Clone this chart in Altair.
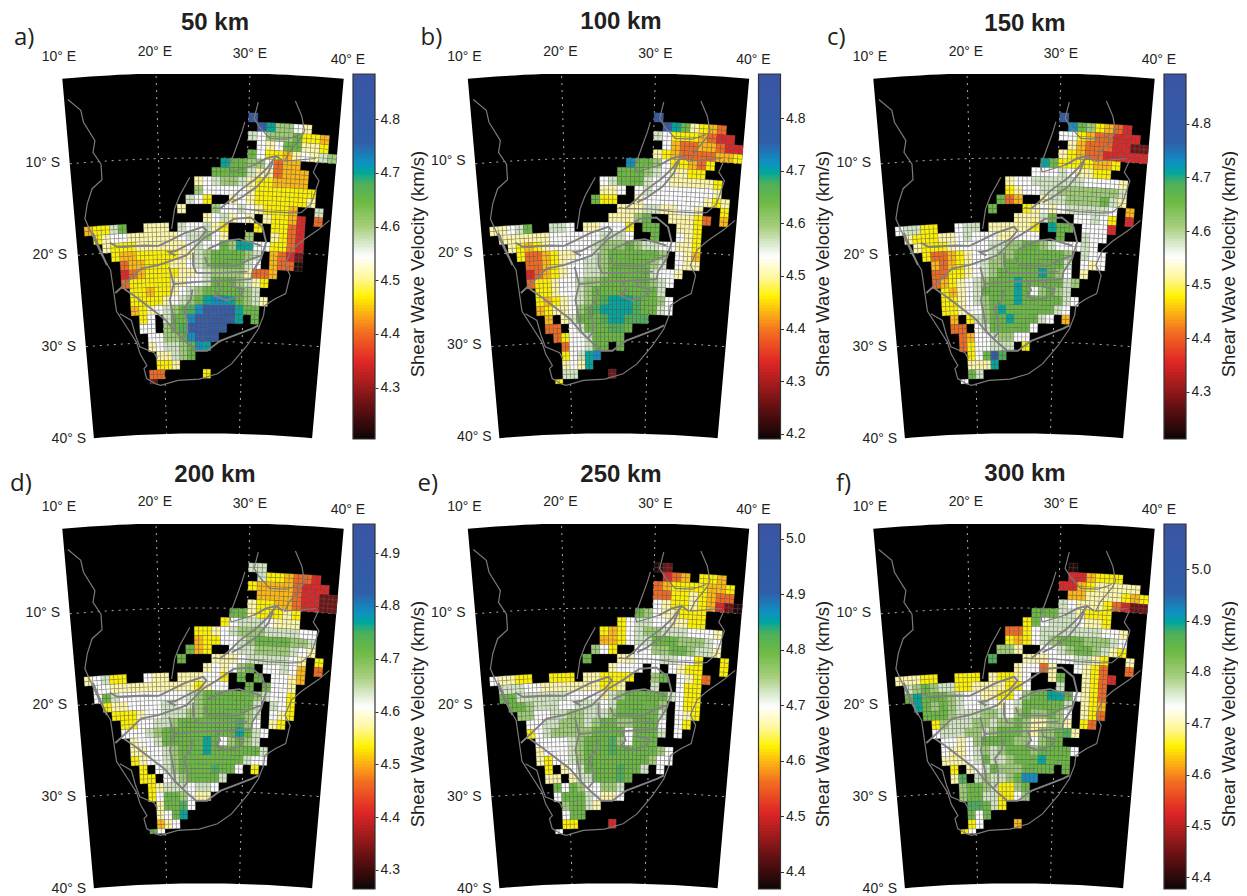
import math
import altair as alt
import pandas as pd

alt.data_transformers.disable_max_rows()

DEPTHS = ["50 km", "100 km", "150 km", "200 km", "250 km", "300 km"]
LETTERS = ["a)", "b)", "c)", "d)", "e)", "f)"]
BAR_RANGE = [(4.2045, 4.884), (4.19, 4.884), (4.212, 4.893), (4.264, 4.955), (4.369, 5.027), (4.377, 5.088)]
BAR_TICKS = [[4.3, 4.4, 4.5, 4.6, 4.7, 4.8],
             [4.2, 4.3, 4.4, 4.5, 4.6, 4.7, 4.8],
             [4.3, 4.4, 4.5, 4.6, 4.7, 4.8],
             [4.3, 4.4, 4.5, 4.6, 4.7, 4.8, 4.9],
             [4.4, 4.5, 4.6, 4.7, 4.8, 4.9, 5.0],
             [4.4, 4.5, 4.6, 4.7, 4.8, 4.9, 5.0]]

STOP_FRAC = [0, 0.08, 0.21, 0.29, 0.35, 0.39, 0.44, 0.50, 0.54, 0.58, 0.65, 0.70, 0.73, 0.76, 0.81, 1]
STOP_HEX = ["#0d0505", "#5c0f12", "#e02626", "#f26a21", "#fdb813", "#fff200", "#fff799", "#ffffff",
            "#d3e6c4", "#a8cf7e", "#6cb944", "#4fb05a", "#00a79d", "#0f8fc4", "#2f5fa9", "#3b54a4"]
CODE_FRAC = {"0": .02, "1": .10, "2": .21, "3": .29, "4": .35, "5": .39, "6": .45, "7": .50,
             "8": .54, "9": .59, "a": .65, "b": .70, "c": .73, "d": .76, "e": .88}

# one entry per 1-degree latitude band from 5-6 S to 34-35 S: "first_lon:codes"
P50 = ["30:e", "31:ec9976", "30:87999a554", "31:767aa665", "30:a755467689", "27:caa997344",
       "26:aaaa8663444", "24:6789986554444", "24:97777765555555", "23:875..6765555556",
       "22:6...9778765554..8", "25:678676.65542.3", "11:4558a..666.877865...5.5532",
       "12:5677666666788976..9..6532", "13:65556666667877a9cc775532", "14:544555556689aaaa98.4321",
       "15:34455566789aaaa87.4330", "15:2345555667899996334", "15:35555566778aaa9865",
       "16:554556789aaaaa98", "16:55556789acddca986", "16:456789abdeeeecaa", "17:57.8aadeeeeec.a",
       "17:77.9abeeeee", "18:7799adeee", "18:67889adc", "19:6689a", "19:556", "18:33.....5", "18:1"]
P100 = ["30:e", "31:eca6543", "30:875554322", "31:743344322", "30:6543333445", "27:daa9755435",
        "26:aaa9876655", "24:78aaa877666665", "24:667.7877777776", "23:a55..67777777656",
        "26:6668866776..5", "25:6669a..66653.4", "11:6678a..887.667775.aa..665",
        "12:6666667777778887..a..765", "13:65456777778999a98877665", "14:53345667789aaaaaa9.764",
        "15:3345677889aaaaa98.766", "15:2345677889aaaaa8776", "15:355677899aaaaaa987",
        "16:5567789aaaaaaaa8", "16:5456789abcccbaa97", "16:456679abccccbaa87", "17:4.68aaabccbbb",
        "17:33.78aaabba", "18:35778aaaa", "19:3778aa.a", "19:578cd", "19:676c", "19:88....1", "18:5"]
P150 = ["30:e", "31:da95432", "30:775433222", "31:643332211", "30:6543322222", "28:ca5555445",
        "27:777876655", "24:67788888877776", "24:56778899999998", "23:a34..6889999a86",
        "22:a...56767888887.4", "25:6668a..77875.2", "11:78855..788.666665.caa.7772",
        "12:6555667877766777..a..877", "13:6555677778899aa9877787", "14:53345677899aaaaaa9.877",
        "15:434567899aaaaaaa8.767", "15:33556789aaaaaca97.6", "15:3456789aaacaaaaa89",
        "16:54678aaaaca79a98", "16:556789aaacaaaaa87", "16:556779acaaaaaa87", "17:4.589aacaaa87.4",
        "17:33.78aaaaa7", "18:347789977", "18:3577888.5", "19:57aeb", "19:666c", "19:a8", "18:7"]
P200 = ["30:88", "31:8554332", "30:544443222", "31:444432211", "30:6554432211", "28:aa655565",
        "27:578887666", "24:55678999888877", "24:4557789aaaa998", "23:a45..7889999876",
        "22:a...66678888876.5", "25:67679a.77874.3", "11:67855..766.666775.a.a.7764",
        "12:7766666666665677..a.a776", "12:7a87777777789aaaaaa98775", "13:566777788789aaaaaa8.875",
        "14:55567788899aaaaa98.765", "15:5577889aaaaaaab97.65", "15:77789aaaaaaaaaca87",
        "16:6778aaaaaca79a98", "16:667789aaacaaaaaa8", "16:567789aaaaaaaa877", "17:5.789aaaabaa7.5",
        "17:55.789aaaa8", "18:568887887", "18:57aa9766", "19:6aab7", "19:67ac", "19:467", "18:a7"]
P250 = ["30:01", "31:234.554", "30:345555445", "30:335565433", "30:7655654210", "28:a9766555",
        "26:5788776655", "24:54578998887776", "24:445788aaa99987", "23:975..7799aa9886",
        "22:a...6677788775..5", "25:6777.7.7655..5", "11:76655..555.665555..9a.7653",
        "12:888776666666556...8..755", "12:aa8888887777689aaaaa8755", "13:aa98887788878aaaaa9.755",
        "14:997788998889aaaaa8.765", "15:778899989aa99aaa7.75", "15:57899999aaaa7aaa8.7",
        "16:777789aaab97aaa", "16:677789aaabaaaaa97", "16:657789aaaaaaaa977", "17:5.678aaaabaa8.7",
        "17:66.688aaaba", "18:a7a977998", "18:7aaa87667", "19:9aa86", "19:7aa", "19:55....2", "18:7"]
P300 = ["31:0", "31:224555", "30:224566666", "31:446666545", "30:8766653211", "27:aaa886555",
        "26:5a78887665", "24:33578888888776", "24:545789aaa99987", "23:996..7789aa9865",
        "22:b...6667778865..6", "25:67736..7653..3", "11:66655..555.65567..6a..6532",
        "12:89a988556666557...8..653", "12:acaaa9877665579aacca7653", "13:ca9a987787678aaaaa8.654",
        "14:aaa988899879a99a97.653", "15:5988899899a966996.53", "15:78889989aaa9699ab6",
        "16:77679aaaa9979aa", "16:76678989aaa9aaaa7", "16:66678a889aaacaaa", "17:5.678a999aaaa.a",
        "17:6b.89889add", "18:9aa98559a", "18:9aa885579", "19:bba85", "19:a7a", "19:57....4", "18:57"]
PANELS = [P50, P100, P150, P200, P250, P300]

# outlines, (lon, lat)
THIN_LINES = [
    [(10.4,-3),(11.7,-4.3),(11.9,-5.6),(13,-7.7),(12.7,-8.95),(13.5,-10.3),(13.5,-12),(12.3,-12.9),(11.6,-14.5),
     (11.2,-16.1),(11.8,-17.7),(12.8,-20.1),(13.8,-21.9),(14,-24.2),(14.2,-26.4),(15.5,-28.4),(16.5,-29.9),
     (16.9,-31.2),(17.7,-32.5),(17.3,-32.8),(17.6,-33.9),(18.7,-34.5),(19.4,-34.7),(21.7,-34.2),(24.5,-34.1),
     (26.9,-33.5),(28.7,-32.4),(30.6,-30.4),(32,-28.5),(32.6,-27),(32.7,-25.9),(34,-25.1),(35.2,-24.5),
     (35.6,-22.5),(34.9,-21.4),(35.6,-19.7),(36.7,-18.7),(38.6,-17.3),(39.8,-16.2)],
    [(31,-3.8),(30.6,-5.6),(31.2,-6.5),(32.4,-7.7),(34.3,-7.7),(35.8,-7.1)],
    [(35,-3.5),(35.8,-5.1),(36.2,-6.7),(35.9,-7.4),(34.7,-9),(34.2,-10.1),(37.7,-9.6)],
    [(38,-9.8),(37.5,-11.1),(38.2,-12),(37.5,-14.6),(36.4,-15.6),(35.2,-15.7),(32.5,-15.7),(29.7,-15.5),(27,-15.5),(26.2,-15.4)],
    [(29.6,-6),(29.3,-7.1),(28.4,-9.7),(28,-10.8),(28.2,-11.5),(30.7,-10.7)],
    [(23.5,-12.1),(22.3,-14.1),(21.7,-15.5),(21.3,-17.7)],
    [(14.6,-26.7),(16,-27.5),(16.4,-29.1),(16.9,-30.4),(18.7,-31.1),(19.1,-31.8)],
]
THICK_LINES = [
    [(30.7,-10.7),(32.1,-9.9),(33.2,-9.6),(34,-10.1)],
    [(33.2,-9.6),(32.2,-11),(31.1,-12.1),(29.2,-13.5),(28.1,-14.6),(27,-15.5)],
    [(32.9,-10.2),(32.4,-11.5),(31.2,-13),(29.5,-14.2),(28.3,-14.8)],
    [(12,-17.7),(12.8,-19.8),(13.4,-21.3)],
    [(14.2,-24.4),(15.3,-23.6),(17.5,-21.9),(19.6,-21.6),(23,-20.6),(25,-18.8),(26.6,-17.9),(28.6,-16.6),
     (30.6,-16.4),(32,-17.4),(32.5,-19),(32,-20.8),(31,-22.3),(30.9,-23.1)],
    [(13.9,-18.9),(14.8,-19.4),(18.1,-19.4),(19.7,-19.5),(21.4,-18.8),(23,-18.1),(25,-17.5),(25.4,-17.9),
     (24.6,-18.8),(21.7,-20.1),(20.9,-20.2),(21.7,-20.6)],
    [(20.9,-21.8),(21.4,-23.7),(20.9,-25.4),(21.3,-27.5),(21.5,-28.9)],
    [(21.4,-23.7),(24.2,-23.5),(26.7,-23.4),(30.9,-23.1)],
    [(23.7,-24.3),(23.5,-25.4),(22.6,-26.4),(23,-27.7),(23,-29),(22.3,-29.7)],
    [(26.7,-23.4),(27.1,-24.4),(26.5,-25),(28,-25.5),(29.7,-24.9),(30,-24.2),(28.6,-24),(28.4,-23.3)],
    [(15.3,-24),(16.9,-25.1),(20.2,-27.5),(21.5,-28.9),(22.8,-30),(24.1,-31),(25.5,-31),(27.2,-29.9),(31.2,-28.5),(32,-28.1)],
    [(23.8,-20.3),(23.8,-21.7),(24.2,-22.5),(27.1,-22.5),(30.4,-22.3)],
    [(25.6,-19.9),(27.8,-19),(29.3,-18.8),(31.9,-19.4)],
    [(25.2,-20.8),(25.6,-21.7),(29.1,-21.7),(30.8,-20.9),(32,-20.5)],
]
GRID_LONS = [20, 30]
GRID_LATS = [-10, -20, -30]
MAP_LON = (10, 40)
MAP_LAT = (-0.7, -40)

LON_TEXT = ["10° E", "20° E", "30° E", "40° E"]
LAT_TEXT = ["10° S", "20° S", "30° S", "40° S"]

# figure layout
W, H, BAR_W = 367, 365, 22
PITCH_X, PITCH_Y = 405.5, 450
OFFSETS = [(0, 0), (-0.5, -2), (-1, 0), (0, 0), (-0.5, 0), (-1, 0)]


def project(lon, lat):
    """Conic map of the figure, page pixels relative to the first panel's view."""
    r = 1521 + (lat + 10) * 9.18
    t = math.radians(0.335 * (lon - 25))
    return [round(195 + r * math.sin(t), 1), round(1605 - r * math.cos(t), 1)]


def poly(pts):
    ring = [project(*p) for p in pts]
    ring.append(ring[0])
    return {"type": "Polygon", "coordinates": [ring]}


def feature(geom, **props):
    return {"type": "Feature", "geometry": geom, "properties": props}


lons = list(range(MAP_LON[0], MAP_LON[1] + 1))
bg_pts = [(l, MAP_LAT[0]) for l in lons] + [(l, MAP_LAT[1]) for l in reversed(lons)]
BG = [feature(poly(bg_pts))]

grid = []
for l in GRID_LONS:
    grid.append(feature({"type": "LineString", "coordinates": [project(l, -a) for a in range(1, 41)]}))
for a in GRID_LATS:
    grid.append(feature({"type": "LineString", "coordinates": [project(l, a) for l in lons]}))

thin = [feature({"type": "LineString", "coordinates": [project(*p) for p in ln]}) for ln in THIN_LINES]
thick = [feature({"type": "LineString", "coordinates": [project(*p) for p in ln]}) for ln in THICK_LINES]


def cells(rows, lo, hi):
    out = []
    for i, row in enumerate(rows):
        start, codes = row.split(":")
        top = -5 - i
        # the southernmost band is only half a degree deep
        steps = (0,) if i == len(rows) - 1 else (0, -.5)
        for j, c in enumerate(codes):
            if c == ".":
                continue
            v = round(lo + CODE_FRAC[c] * (hi - lo), 4)
            west = int(start) + j
            for dx in (0, .5):
                for dy in steps:
                    x0, y0 = west + dx, top + dy
                    out.append(feature(poly([(x0, y0), (x0 + .5, y0), (x0 + .5, y0 - .5), (x0, y0 - .5)]), v=v))
    return out


def make_panel(i):
    lo, hi = BAR_RANGE[i]
    col, row = i % 3, i // 3
    ox, oy = OFFSETS[i]
    proj = dict(type="identity", scale=1, translate=[ox, oy])
    color_scale = alt.Scale(domain=[lo + f * (hi - lo) for f in STOP_FRAC], range=STOP_HEX, interpolate="rgb")

    base = alt.Chart(alt.Data(values=BG)).mark_geoshape(fill="black", strokeWidth=0).project(**proj)
    gr = alt.Chart(alt.Data(values=grid)).mark_geoshape(
        filled=False, stroke="#dddddd", strokeWidth=0.8, strokeDash=[2, 5]).project(**proj)
    cl = alt.Chart(alt.Data(values=cells(PANELS[i], lo, hi))).mark_geoshape(
        stroke="#6e6e6e", strokeWidth=0.3).encode(
        color=alt.Color("properties.v:Q", scale=color_scale, legend=None)).project(**proj)
    l1 = alt.Chart(alt.Data(values=thin)).mark_geoshape(
        filled=False, stroke="#7a7a7a", strokeWidth=1.2).project(**proj)
    l2 = alt.Chart(alt.Data(values=thick)).mark_geoshape(
        filled=False, stroke="#808080", strokeWidth=1.9).project(**proj)

    n = 120
    bar = pd.DataFrame({
        "v0": [lo + (hi - lo) * k / n for k in range(n)],
        "v1": [lo + (hi - lo) * min(k + 1.3, n) / n for k in range(n)],
        "vm": [lo + (hi - lo) * (k + .5) / n for k in range(n)],
    })
    yscale = alt.Scale(domain=[lo, hi], nice=False, zero=False)
    bar_ch = alt.Chart(bar).mark_rect().encode(
        x=alt.value(W - BAR_W), x2=alt.value(W),
        y=alt.Y("v0:Q", scale=yscale, axis=alt.Axis(
            orient="right", values=BAR_TICKS[i], format=".1f", title="Shear Wave Velocity (km/s)",
            grid=False, domain=False, ticks=True, tickSize=3, tickColor="#333333", labelPadding=2,
            labelFont="Liberation Sans", labelFontSize=14, labelColor="#231f20", labelFlush=False,
            titleFont="Liberation Sans", titleFontSize=18.5, titleFontWeight="normal", titleColor="#231f20",
            titleAngle=270, titleBaseline="middle", titleY=H / 2 + 7, titleX=42,
            minExtent=22, maxExtent=22)),
        y2="v1:Q",
        color=alt.Color("vm:Q", scale=color_scale, legend=None))
    frame = alt.Chart(pd.DataFrame({"a": [lo], "b": [hi]})).mark_rect(
        filled=False, stroke="#333333", strokeWidth=1.2).encode(
        x=alt.value(W - BAR_W), x2=alt.value(W),
        y=alt.Y("a:Q", scale=yscale, axis=None), y2="b:Q")

    lon_df = pd.DataFrame({"t": LON_TEXT, "x": [51, 147, 242, 340], "y": [-17, -22, -20, -14]})
    lat_df = pd.DataFrame({"t": LAT_TEXT, "x": [52, 59, 68, 78], "y": [89 + oy, 181 + oy, 273 + oy, 365 + oy]})
    head_x = [207, 207.5, 206, 207, 207.5, 206]
    head_y = [-51, -52, -50, -49, -49, -50]
    head = pd.DataFrame({"t": [DEPTHS[i]], "x": [head_x[i]], "y": [head_y[i]]})
    tag_x = [6, 7, 8, 2, 4, 17]
    tag = pd.DataFrame({"t": [LETTERS[i]], "x": [tag_x[i]], "y": [-36 if row == 0 else -40]})

    def txt(df, **kw):
        return alt.Chart(df).mark_text(**kw).encode(
            x=alt.X("x:Q", scale=None, axis=None), y=alt.Y("y:Q", scale=None, axis=None), text="t:N")

    t1 = txt(lon_df, font="Liberation Sans", fontSize=14, align="center", baseline="middle", color="#231f20")
    t2 = txt(lat_df, font="Liberation Sans", fontSize=14, align="right", baseline="middle", color="#231f20")
    t3 = txt(head, font="Liberation Sans", fontSize=24, fontWeight="bold", align="center", baseline="middle", color="#231f20")
    t4 = txt(tag, font="Open Sans", fontSize=24, align="left", baseline="middle", color="#231f20")

    return alt.layer(base, gr, cl, l1, l2, bar_ch, frame, t1, t2, t3, t4).resolve_scale(
        x="independent", y="independent").properties(width=W, height=H)


chart = alt.concat(
    *[make_panel(i) for i in range(6)], columns=3, bounds="flush",
    spacing={"column": PITCH_X - W, "row": PITCH_Y - H}
).resolve_scale(color="independent").properties(
    padding={"left": 0, "top": 2, "right": 0, "bottom": 0}
).configure_view(stroke=None)

chart.save("out.html", embed_options={"renderer": "svg", "actions": False})
